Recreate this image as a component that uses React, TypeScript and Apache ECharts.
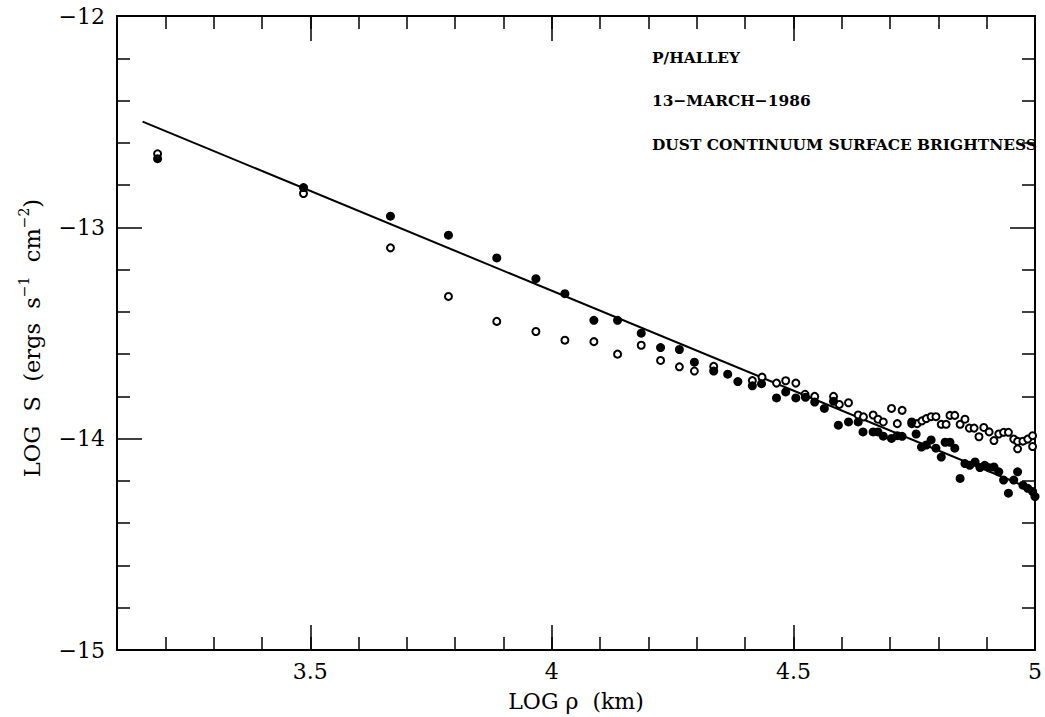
import React, { useEffect, useRef } from "react";
import * as echarts from "echarts";

// LOG rho (km) / LOG S values
const filledX = [3.184, 3.486, 3.666, 3.786, 3.886, 3.967, 4.027, 4.087, 4.136, 4.185, 4.225, 4.264, 4.295, 4.335, 4.364, 4.385, 4.415, 4.434, 4.465, 4.484, 4.505, 4.525, 4.544, 4.564, 4.583, 4.593, 4.614, 4.634, 4.644, 4.665, 4.675, 4.686, 4.703, 4.715, 4.725, 4.745, 4.754, 4.765, 4.775, 4.785, 4.795, 4.806, 4.814, 4.824, 4.834, 4.845, 4.855, 4.865, 4.876, 4.886, 4.896, 4.905, 4.915, 4.925, 4.935, 4.945, 4.956, 4.964, 4.975, 4.985, 4.995, 5.0];
const filledY = [-12.675, -12.812, -12.947, -13.037, -13.145, -13.243, -13.314, -13.44, -13.44, -13.501, -13.569, -13.578, -13.638, -13.68, -13.695, -13.73, -13.75, -13.74, -13.807, -13.779, -13.807, -13.804, -13.827, -13.857, -13.823, -13.936, -13.921, -13.921, -13.968, -13.968, -13.968, -13.988, -13.999, -13.986, -13.989, -13.921, -13.978, -14.04, -14.03, -14.006, -14.045, -14.087, -14.017, -14.017, -14.045, -14.188, -14.118, -14.126, -14.11, -14.137, -14.126, -14.138, -14.134, -14.157, -14.196, -14.258, -14.196, -14.157, -14.22, -14.235, -14.25, -14.274];

const openX = [3.184, 3.486, 3.666, 3.786, 3.886, 3.967, 4.027, 4.087, 4.136, 4.185, 4.225, 4.264, 4.295, 4.335, 4.415, 4.435, 4.465, 4.484, 4.505, 4.524, 4.544, 4.583, 4.595, 4.614, 4.634, 4.645, 4.665, 4.675, 4.686, 4.703, 4.715, 4.725, 4.745, 4.756, 4.766, 4.775, 4.785, 4.795, 4.806, 4.816, 4.824, 4.834, 4.845, 4.855, 4.864, 4.874, 4.884, 4.894, 4.905, 4.915, 4.925, 4.935, 4.945, 4.956, 4.964, 4.964, 4.975, 4.985, 4.995, 4.995];
const openY = [-12.652, -12.84, -13.097, -13.327, -13.445, -13.493, -13.534, -13.541, -13.6, -13.558, -13.63, -13.66, -13.68, -13.658, -13.725, -13.709, -13.737, -13.726, -13.737, -13.79, -13.8, -13.8, -13.838, -13.83, -13.888, -13.897, -13.888, -13.908, -13.921, -13.857, -13.929, -13.866, -13.929, -13.929, -13.916, -13.905, -13.896, -13.896, -13.932, -13.932, -13.89, -13.89, -13.932, -13.908, -13.95, -13.95, -13.991, -13.947, -13.968, -14.009, -13.978, -13.97, -13.97, -14.002, -14.048, -14.013, -14.012, -14.002, -13.986, -14.037];

const fitX = [3.153, 5.0];
const fitY = [-12.5, -14.245];

const xMajorTicks = [3.5, 4, 4.5, 5];
const yMajorLabels = [-15, -14, -13, -12];

const annotations = ["P/HALLEY", "13\u2212MARCH\u22121986", "DUST CONTINUUM SURFACE BRIGHTNESS"];

const FONT = "DejaVu Serif";

export default function App() {
  const ref = useRef<HTMLDivElement>(null);
  useEffect(() => {
    if (!ref.current) return;
    const chart = echarts.init(ref.current, undefined, { renderer: "svg" });
    const filled = filledX.map((x, i) => [x, filledY[i]]);
    const open = openX.map((x, i) => [x, openY[i]]);
    const fit = fitX.map((x, i) => [x, fitY[i]]);
    const lineStyle = { color: "#000", width: 2 };
    const tickStyle = { color: "#000", width: 1.5 };
    const fmt = (v: number) => (v < 0 ? "\u2212" + Math.abs(v) : String(v));
    const xBase = { type: "value", min: 3.1, max: 5, splitLine: { show: false } };
    chart.setOption({
      animation: false,
      backgroundColor: "#fff",
      grid: { left: 117, right: 2, top: 16, bottom: 58 },
      xAxis: [
        {
          ...xBase,
          position: "bottom",
          name: "LOG \u03c1  (km)",
          nameLocation: "middle",
          nameGap: 40,
          nameTextStyle: { fontFamily: FONT, fontSize: 22, color: "#000" },
          axisLine: { show: true, lineStyle },
          axisTick: { show: true, inside: true, length: 25, lineStyle: tickStyle, customValues: xMajorTicks },
          axisLabel: { show: true, customValues: xMajorTicks, margin: 10, fontFamily: FONT, fontSize: 22, color: "#000", formatter: fmt },
        },
        {
          ...xBase,
          position: "bottom",
          interval: 0.1,
          axisLine: { show: false },
          axisTick: { show: true, inside: true, length: 13, lineStyle: tickStyle },
          axisLabel: { show: false },
        },
        {
          ...xBase,
          position: "top",
          axisLine: { show: true, lineStyle },
          axisTick: { show: true, inside: true, length: 25, lineStyle: tickStyle, customValues: xMajorTicks },
          axisLabel: { show: false },
        },
        {
          ...xBase,
          position: "top",
          interval: 0.1,
          axisLine: { show: false },
          axisTick: { show: true, inside: true, length: 13, lineStyle: tickStyle },
          axisLabel: { show: false },
        },
      ],
      yAxis: [
        {
          type: "value",
          min: -15,
          max: -12,
          interval: 1,
          position: "left",
          splitLine: { show: false },
          axisLine: { show: true, lineStyle },
          axisTick: { show: true, inside: true, length: 25, lineStyle: tickStyle },
          minorTick: { show: true, splitNumber: 5, length: 13, lineStyle: tickStyle },
          axisLabel: { show: true, margin: 12, fontFamily: FONT, fontSize: 22, color: "#000", formatter: fmt, customValues: yMajorLabels },
        },
        {
          type: "value",
          min: -15,
          max: -12,
          interval: 1,
          position: "right",
          splitLine: { show: false },
          axisLine: { show: true, lineStyle },
          axisTick: { show: true, inside: true, length: 25, lineStyle: tickStyle },
          minorTick: { show: true, splitNumber: 5, length: 13, lineStyle: tickStyle },
          axisLabel: { show: false },
        },
      ],
      graphic: [
        ...annotations.map((t, i) => ({
          type: "text",
          x: 652,
          y: 57.5 + i * 43.5,
          style: { text: t, fontFamily: FONT, fontWeight: "bold", fontSize: 15.4, fill: "#000", verticalAlign: "middle", align: "left" },
        })),
        {
          type: "text",
          x: 30,
          y: 338,
          rotation: Math.PI / 2,
          style: {
            text: "{a|LOG  S  (ergs  s}{s|\u22121}{a|  cm}{s|\u22122}{a|)}",
            align: "center",
            verticalAlign: "middle",
            fontFamily: FONT,
            fontSize: 22,
            fill: "#000",
            rich: {
              a: { fontFamily: FONT, fontSize: 22.5, fill: "#000", lineHeight: 26, verticalAlign: "bottom" },
              s: { fontFamily: FONT, fontSize: 14, fill: "#000", lineHeight: 26, verticalAlign: "top" },
            },
          },
        },
      ],
      series: [
        {
          type: "line",
          data: fit,
          xAxisIndex: 0,
          yAxisIndex: 0,
          symbol: "none",
          lineStyle: { color: "#000", width: 2 },
          z: 1,
        },
        {
          type: "scatter",
          data: open,
          xAxisIndex: 0,
          yAxisIndex: 0,
          symbol: "circle",
          symbolSize: 7,
          itemStyle: { color: "#fff", borderColor: "#000", borderWidth: 2, opacity: 1 },
          z: 2,
        },
        {
          type: "scatter",
          data: filled,
          xAxisIndex: 0,
          yAxisIndex: 0,
          symbol: "circle",
          symbolSize: 9,
          itemStyle: { color: "#000", opacity: 1 },
          z: 3,
        },
      ],
    });
    return () => chart.dispose();
  }, []);
  return (
    <div
      ref={ref}
      style={{ position: "fixed", left: 0, top: 0, width: 1045, height: 717, background: "#fff" }}
    />
  );
}
